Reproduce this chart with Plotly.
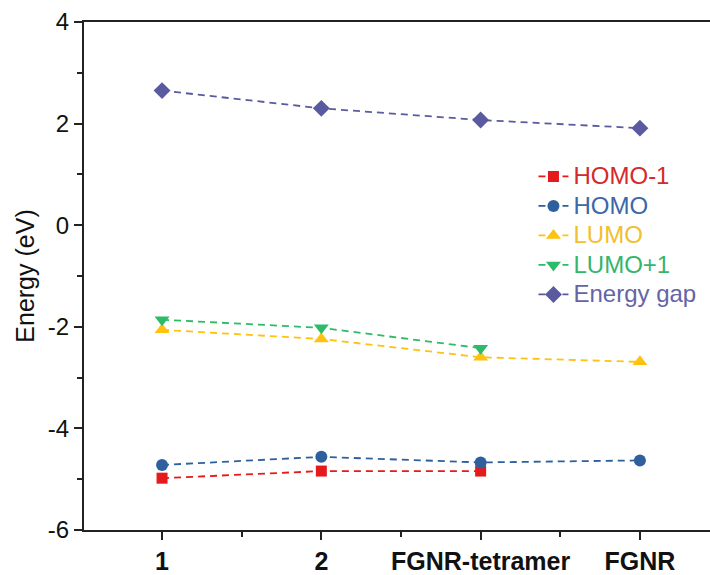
import plotly.graph_objects as go

# Frontier orbital energies across the series
categories = ["1", "2", "FGNR-tetramer", "FGNR"]
homo_minus1 = [-4.98, -4.84, -4.84]
homo = [-4.72, -4.56, -4.67, -4.63]
lumo = [-2.06, -2.24, -2.60, -2.69]
lumo_plus1 = [-1.86, -2.02, -2.42]
energy_gap = [2.65, 2.30, 2.07, 1.91]

y_ticks = [-6, -4, -2, 0, 2, 4]
y_ticklabels = ["-6", "-4", "-2", "0", "2", "4"]

xpos = list(range(len(categories)))

series = [
    ("HOMO-1", homo_minus1, "#e41a1c", "#d42a2a", "square", 11),
    ("HOMO", homo, "#2f5f9c", "#3b68a6", "circle", 12),
    ("LUMO", lumo, "#ffc20e", "#f0c030", "triangle-up", 13),
    ("LUMO+1", lumo_plus1, "#2dbb6a", "#36b46c", "triangle-down", 13),
    ("Energy gap", energy_gap, "#5a5aa0", "#6464a6", "diamond", 13),
]

fig = go.Figure()
for name, vals, col, txtcol, sym, size in series:
    fig.add_trace(go.Scatter(
        x=xpos[:len(vals)],
        y=vals,
        mode="lines+markers",
        name=f"<span style='color:{txtcol};font-size:24px'>{name}</span>",
        line=dict(color=col, width=1.8, dash="7px,5px"),
        marker=dict(symbol=sym, size=size, color=col, line=dict(width=0)),
    ))

font_family = "Arial, Liberation Sans, sans-serif"

fig.update_layout(
    width=710,
    height=575,
    margin=dict(l=84, r=0, t=22, b=43),
    paper_bgcolor="white",
    plot_bgcolor="white",
    font=dict(family=font_family, size=23, color="#111111"),
    showlegend=True,
    legend=dict(
        x=0.718, y=0.735, xanchor="left", yanchor="top",
        bgcolor="rgba(0,0,0,0)",
        font=dict(family=font_family, size=20.4),
        tracegroupgap=0,
    ),
    xaxis=dict(
        range=[-0.49, 3.44],
        tickvals=xpos,
        ticktext=categories,
        tickfont=dict(family=font_family, size=25, weight="bold", color="#111111"),
        showgrid=False,
        zeroline=False,
        showline=True,
        linecolor="#222222",
        linewidth=2,
        mirror=True,
        ticks="outside",
        ticklen=8,
        tickwidth=1.5,
        tickcolor="#222222",
        minor=dict(tickvals=[0.5, 1.5, 2.5], ticks="outside", ticklen=5,
                   tickwidth=1.5, tickcolor="#222222", showgrid=False),
    ),
    yaxis=dict(
        range=[-6, 4],
        tickvals=y_ticks,
        ticktext=y_ticklabels,
        tickfont=dict(family=font_family, size=24, color="#111111"),
        title=dict(text="Energy (eV)", font=dict(family=font_family, size=25), standoff=6),
        showgrid=False,
        zeroline=False,
        showline=True,
        linecolor="#222222",
        linewidth=2,
        ticks="outside",
        ticklen=8,
        tickwidth=1.5,
        tickcolor="#222222",
        minor=dict(dtick=1, ticks="outside", ticklen=5, tickwidth=1.5,
                   tickcolor="#222222", showgrid=False),
    ),
)

fig.write_html("out.html")
